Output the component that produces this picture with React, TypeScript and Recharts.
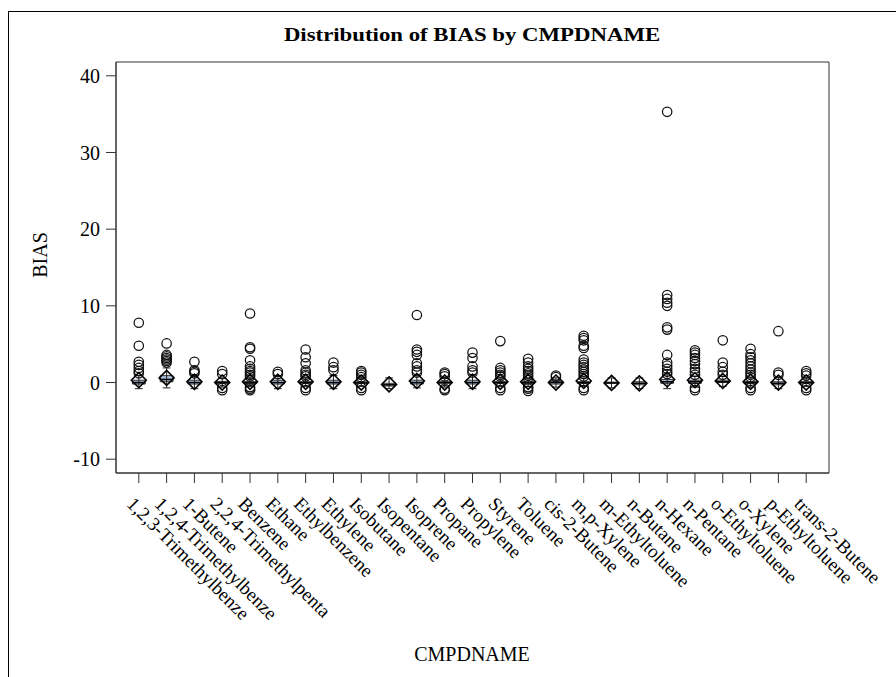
import React from 'react';
import { ComposedChart, XAxis, YAxis, Scatter, ReferenceArea, ReferenceLine } from 'recharts';

const categories = [
  '1,2,3-Trimethylbenze', '1,2,4-Trimethylbenze', '1-Butene', '2,2,4-Trimethylpenta', 'Benzene',
  'Ethane', 'Ethylbenzene', 'Ethylene', 'Isobutane', 'Isopentane',
  'Isoprene', 'Propane', 'Propylene', 'Styrene', 'Toluene',
  'cis-2-Butene', 'm,p-Xylene', 'm-Ethyltoluene', 'n-Butane', 'n-Hexane',
  'n-Pentane', 'o-Ethyltoluene', 'o-Xylene', 'p-Ethyltoluene', 'trans-2-Butene',
];

const q1 = [-0.2, 0.1, -0.2, -0.15, -0.1, -0.2, -0.1, -0.2, -0.1, -0.45, -0.2, -0.1, -0.2, -0.1, -0.1, -0.2, -0.1, -0.1, -0.3, -0.1, -0.1, 0.0, -0.15, -0.3, -0.1];
const medians = [0.0, 0.4, 0.0, 0.0, 0.0, 0.0, 0.0, 0.0, -0.05, -0.3, 0.0, 0.0, 0.0, 0.0, 0.0, 0.0, 0.0, -0.05, -0.1, 0.1, 0.1, 0.1, 0.0, -0.1, 0.0];
const q3 = [0.3, 0.9, 0.3, 0.15, 0.1, 0.3, 0.1, 0.3, 0.1, -0.1, 0.3, 0.1, 0.3, 0.1, 0.1, 0.2, 0.1, 0.05, 0.1, 0.4, 0.3, 0.3, 0.15, 0.1, 0.1];
const whiskerLow = [-0.8, -0.7, -0.8, -0.6, -0.5, -0.8, -0.5, -0.8, -0.5, -0.8, -0.7, -0.6, -0.8, -0.5, -0.5, -0.6, -0.5, -0.7, -0.8, -0.8, -0.6, -0.5, -0.6, -0.8, -0.5];
const whiskerHigh = [0.9, 1.9, 0.9, 0.6, 0.5, 0.9, 0.6, 0.9, 0.5, 0.6, 0.9, 0.6, 1.0, 0.6, 0.5, 0.6, 0.6, 0.6, 0.6, 1.0, 0.8, 0.8, 0.6, 0.7, 0.6];
const means = [0.3, 0.6, 0.1, 0.0, 0.1, 0.1, 0.1, 0.1, 0.0, -0.25, 0.2, 0.0, 0.1, 0.1, 0.1, 0.0, 0.2, -0.05, -0.1, 0.4, 0.3, 0.2, 0.1, 0.0, 0.0];

const outliers: number[][] = [
  [7.8, 4.8, 2.7, 2.3, 1.9, 1.5, 1.2],
  [5.1, 3.6, 3.4, 3.2, 3.0, 2.8, 2.6],
  [2.7, 1.6, 1.4, 1.2],
  [1.5, 1.1, -0.7, -1.0],
  [9.0, 4.6, 4.4, 2.9, 2.1, 1.8, 1.5, 1.3, 1.0, 0.8, -0.6, -0.8, -1.0],
  [1.4, 1.1],
  [4.3, 3.3, 2.5, 1.6, 1.3, 1.0, 0.8, -0.7, -1.0],
  [2.6, 2.0, 1.6],
  [1.5, 1.3, 1.0, 0.7, -0.7, -1.0],
  [],
  [8.8, 4.3, 4.0, 3.6, 2.5, 2.1, 1.6, 1.3],
  [1.3, 1.1, 0.8, -0.8, -1.0],
  [3.9, 3.2, 2.1, 1.6, 1.3],
  [5.4, 1.9, 1.6, 1.3, 1.0, 0.8, -0.7, -1.0],
  [3.1, 2.6, 2.1, 1.8, 1.5, 1.2, 0.9, 0.6, -0.6, -0.8, -1.1],
  [0.9, 0.7],
  [6.1, 5.8, 5.5, 4.8, 4.5, 3.0, 2.6, 2.3, 2.0, 1.7, 1.4, 1.1, 0.8, -0.7, -1.0],
  [],
  [],
  [35.3, 11.4, 10.9, 10.4, 10.0, 7.2, 6.9, 3.6, 2.6, 2.2, 1.8, 1.4, 1.1],
  [4.2, 3.9, 3.6, 3.2, 2.8, 2.4, 1.8, 1.4, 1.0, -0.7, -1.0],
  [5.5, 2.6, 2.0, 1.4, 1.0],
  [4.4, 3.7, 3.3, 2.9, 2.5, 2.1, 1.7, 1.3, 1.0, 0.7, -0.7, -1.0],
  [6.7, 1.3, 1.0],
  [1.5, 1.2, 0.9, -0.7, -1.0],
];

const yTicks = [-10, 0, 10, 20, 30, 40];
const xDomain: [number, number] = [-0.82, 24.82];
const yDomain: [number, number] = [-11.8, 41.8];

const FONT = '"Liberation Serif", "Times New Roman", Times, serif';
const BOX_HALF = 0.23;
const CAP_HALF = 0.14;

const outlierPoints = outliers.flatMap((vals, i) => vals.map((v) => ({ x: i, y: v })));
const meanPoints = means.map((m, i) => ({ x: i, y: m }));
const xTicks = categories.map((_, i) => i);

const Circle = (p: any) => (
  <circle cx={p.cx} cy={p.cy} r={4.7} fill="none" stroke="#111" strokeWidth={1.25} />
);

const Diamond = (p: any) => {
  const { cx, cy } = p;
  const s = 7.5;
  return (
    <polygon
      points={`${cx},${cy - s} ${cx + s},${cy} ${cx},${cy + s} ${cx - s},${cy}`}
      fill="none"
      stroke="#000"
      strokeWidth={1.6}
    />
  );
};

const XTick = (p: any) => {
  const { x, y, payload } = p;
  const bx = x - 13;
  const by = y + 22;
  return (
    <text
      x={bx}
      y={by}
      transform={`rotate(45 ${bx} ${by})`}
      textAnchor="start"
      style={{ fontFamily: FONT, fontSize: 19 }}
      fill="#000"
    >
      {categories[payload.value]}
    </text>
  );
};

const YTick = (p: any) => {
  const { x, y, payload } = p;
  return (
    <text x={x} y={y} dy="0.355em" textAnchor="end" style={{ fontFamily: FONT, fontSize: 20 }} fill="#000">
      {payload.value}
    </text>
  );
};

export default function App() {
  return (
    <div style={{ position: 'fixed', left: 0, top: 0, width: 896, height: 677, overflow: 'hidden', background: '#fff', fontFamily: FONT }}>
      <div style={{ position: 'absolute', left: 8, top: 11, width: 1000, height: 1000, borderLeft: '1px solid #000', borderTop: '1px solid #000' }} />
      <div
        style={{
          position: 'absolute', left: 172, top: 25, width: 600, textAlign: 'center',
          fontFamily: FONT, fontWeight: 'bold', fontSize: 19, lineHeight: '19px', color: '#000',
          transform: 'scaleX(1.2)', transformOrigin: 'center',
        }}
      >
        Distribution of BIAS by CMPDNAME
      </div>
      <div
        style={{
          position: 'absolute', left: -10, top: 243, width: 100, height: 24, textAlign: 'center',
          fontFamily: FONT, fontSize: 20, lineHeight: '24px', color: '#000', transform: 'rotate(-90deg)',
        }}
      >
        BIAS
      </div>
      <div
        style={{
          position: 'absolute', left: 272, top: 644, width: 400, textAlign: 'center',
          fontFamily: FONT, fontSize: 20, lineHeight: '20px', color: '#000',
        }}
      >
        CMPDNAME
      </div>
      <div style={{ position: 'absolute', left: 8, top: 8, fontFamily: FONT }}>
        <ComposedChart width={880} height={660} margin={{ top: 54, right: 59, bottom: 0, left: 0 }}>
          <XAxis
            dataKey="x"
            type="number"
            domain={xDomain}
            ticks={xTicks}
            interval={0}
            allowDataOverflow
            tick={<XTick />}
            tickSize={10}
            tickMargin={0}
            height={195}
            stroke="#333"
            tickLine={{ stroke: '#333' }}
          />
          <YAxis
            type="number"
            domain={yDomain}
            ticks={yTicks}
            allowDataOverflow
            width={108}
            tickSize={10}
            tickMargin={6}
            stroke="#333"
            tick={<YTick />}
          />
          <ReferenceArea
            x1={xDomain[0]}
            x2={xDomain[1]}
            y1={yDomain[0]}
            y2={yDomain[1]}
            fill="none"
            stroke="#333"
            ifOverflow="visible"
          />
          {categories.map((_, i) => (
            <ReferenceLine
              key={`wl${i}`}
              segment={[{ x: i, y: whiskerLow[i] }, { x: i, y: whiskerHigh[i] }]}
              stroke="#222"
              strokeWidth={1}
            />
          ))}
          {categories.map((_, i) => (
            <ReferenceLine
              key={`cl${i}`}
              segment={[{ x: i - CAP_HALF, y: whiskerLow[i] }, { x: i + CAP_HALF, y: whiskerLow[i] }]}
              stroke="#222"
              strokeWidth={1}
            />
          ))}
          {categories.map((_, i) => (
            <ReferenceLine
              key={`ch${i}`}
              segment={[{ x: i - CAP_HALF, y: whiskerHigh[i] }, { x: i + CAP_HALF, y: whiskerHigh[i] }]}
              stroke="#222"
              strokeWidth={1}
            />
          ))}
          {categories.map((_, i) => (
            <ReferenceArea
              key={`box${i}`}
              x1={i - BOX_HALF}
              x2={i + BOX_HALF}
              y1={q1[i]}
              y2={q3[i]}
              fill="#a9bfdd"
              fillOpacity={1}
              stroke="#333"
              strokeWidth={1}
            />
          ))}
          {categories.map((_, i) => (
            <ReferenceLine
              key={`md${i}`}
              segment={[{ x: i - BOX_HALF, y: medians[i] }, { x: i + BOX_HALF, y: medians[i] }]}
              stroke="#000"
              strokeWidth={1.5}
            />
          ))}
          <Scatter data={outlierPoints} dataKey="y" shape={<Circle />} isAnimationActive={false} />
          <Scatter data={meanPoints} dataKey="y" shape={<Diamond />} isAnimationActive={false} />
        </ComposedChart>
      </div>
    </div>
  );
}
